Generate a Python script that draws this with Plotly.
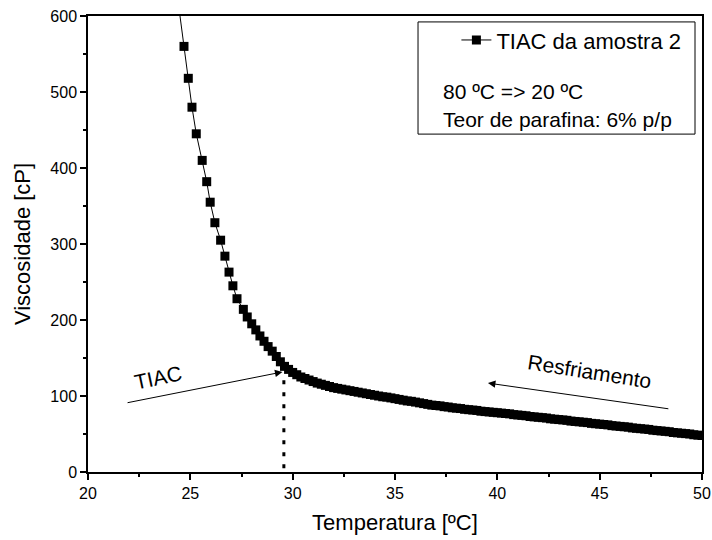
import plotly.graph_objects as go

# Data
temperature = [24.30, 24.69, 24.90, 25.08, 25.29, 25.58, 25.80, 25.97, 26.20, 26.48,
               26.69, 26.89, 27.08, 27.28, 27.59, 27.78,
               28.0, 28.2, 28.4, 28.6, 28.8, 29.0, 29.2, 29.4, 29.6, 29.8,
               30.0, 30.2, 30.4, 30.6, 30.8, 31.0, 31.2, 31.4, 31.6, 31.8,
               32.0, 32.2, 32.4, 32.6, 32.8, 33.0, 33.2, 33.4, 33.6, 33.8,
               34.0, 34.2, 34.4, 34.6, 34.8, 35.0, 35.2, 35.4, 35.6, 35.8,
               36.0, 36.2, 36.4, 36.6, 36.8, 37.0, 37.2, 37.4, 37.6, 37.8,
               38.0, 38.2, 38.4, 38.6, 38.8, 39.0, 39.2, 39.4, 39.6, 39.8,
               40.0, 40.2, 40.4, 40.6, 40.8, 41.0, 41.2, 41.4, 41.6, 41.8,
               42.0, 42.2, 42.4, 42.6, 42.8, 43.0, 43.2, 43.4, 43.6, 43.8,
               44.0, 44.2, 44.4, 44.6, 44.8, 45.0, 45.2, 45.4, 45.6, 45.8,
               46.0, 46.2, 46.4, 46.6, 46.8, 47.0, 47.2, 47.4, 47.6, 47.8,
               48.0, 48.2, 48.4, 48.6, 48.8, 49.0, 49.2, 49.4, 49.6, 49.8,
               50.0]
viscosity = [640, 560, 518, 480, 445, 410, 382, 355, 328, 305,
             284, 263, 245, 228, 214, 204,
             195, 187, 179, 172, 165, 159, 152, 145, 139, 135,
             131, 128, 125, 123, 121, 119, 117, 115.5, 114, 112.5,
             111, 110, 109, 108, 107, 106, 105, 104, 103, 102,
             101, 100, 99, 98.5, 97.5, 96.5, 95.5, 94.5, 93.5, 93,
             92, 91, 90, 89, 88, 87.5, 87, 86, 85.5, 84.5,
             84, 83.5, 82.5, 82, 81.5, 81, 80, 79.5, 79, 78.5,
             78, 77.5, 77, 76.5, 75.5, 75, 74.5, 74, 73, 72.5,
             72, 71.5, 71, 70, 69.5, 69, 68.5, 68, 67, 66.5,
             66, 65.5, 65, 64, 63.5, 63, 62.5, 62, 61, 60.5,
             60, 59.5, 59, 58, 57.5, 57, 56.5, 56, 55, 54.5,
             54, 53.5, 53, 52, 51.5, 51, 50.5, 50, 49, 48.5,
             48]

tiac_temp = [29.57, 29.57]
tiac_visc = [5, 128]

series_name = "TIAC da amostra 2"
box_lines = ["80 ºC => 20 ºC", "Teor de parafina: 6% p/p"]
x_title = "Temperatura [ºC]"
y_title = "Viscosidade [cP]"

FONT = "Liberation Sans, Arial, sans-serif"

fig = go.Figure()
fig.add_trace(go.Scatter(
    x=temperature, y=viscosity, mode="lines+markers", name=series_name,
    line=dict(color="black", width=1),
    marker=dict(symbol="square", size=9, color="black"),
))
fig.add_trace(go.Scatter(
    x=tiac_temp, y=tiac_visc, mode="lines", showlegend=False,
    line=dict(color="black", width=3, dash="4px,8px"),
))

# Legend frame
fig.add_shape(type="rect", xref="paper", yref="paper",
              x0=0.5375, x1=0.9886, y0=0.741, y1=0.987,
              line=dict(color="black", width=1), fillcolor="rgba(0,0,0,0)")
fig.add_annotation(text=box_lines[0], xref="paper", yref="paper", x=0.5755, y=0.835,
                   xanchor="left", yanchor="middle", showarrow=False,
                   font=dict(size=21, color="black", family=FONT))
fig.add_annotation(text=box_lines[1], xref="paper", yref="paper", x=0.5755, y=0.774,
                   xanchor="left", yanchor="middle", showarrow=False,
                   font=dict(size=21, color="black", family=FONT))

# Arrows and labels
fig.add_annotation(x=29.5, y=131.6, ax=21.86, ay=90.8, xref="x", yref="y",
                   axref="x", ayref="y", text="", showarrow=True,
                   arrowhead=2, arrowsize=1.5, arrowwidth=1, arrowcolor="black")
fig.add_annotation(x=39.54, y=117, ax=48.43, ay=82.9, xref="x", yref="y",
                   axref="x", ayref="y", text="", showarrow=True,
                   arrowhead=2, arrowsize=1.5, arrowwidth=1, arrowcolor="black")
fig.add_annotation(x=23.42, y=125, text="TIAC", showarrow=False, textangle=-12,
                   font=dict(size=21, color="black", family=FONT))
fig.add_annotation(x=44.52, y=131.6, text="Resfriamento", showarrow=False, textangle=9,
                   font=dict(size=21, color="black", family=FONT))

axis_common = dict(showline=True, linewidth=1.5, linecolor="black", mirror=True,
                   ticks="outside", ticklen=6, tickwidth=1.5, tickcolor="black",
                   showgrid=False, zeroline=False, automargin=False,
                   tickfont=dict(size=16, color="black", family=FONT))
fig.update_xaxes(range=[20, 50], dtick=5, tick0=20,
                 minor=dict(ticks="outside", ticklen=3, dtick=2.5, tickcolor="black", tickwidth=1.5),
                 title=dict(text=x_title, font=dict(size=22, color="black", family=FONT), standoff=14),
                 **axis_common)
fig.update_yaxes(range=[0, 600], dtick=100, tick0=0,
                 minor=dict(ticks="outside", ticklen=3, dtick=50, tickcolor="black", tickwidth=1.5),
                 title=dict(text=y_title, font=dict(size=22, color="black", family=FONT), standoff=14),
                 **axis_common)

fig.update_layout(
    width=712, height=540,
    margin=dict(l=88, r=10, t=16, b=68),
    paper_bgcolor="white", plot_bgcolor="white",
    font=dict(family=FONT, color="black"),
    showlegend=True,
    legend=dict(x=0.6, y=0.947, xanchor="left", yanchor="middle",
                bgcolor="rgba(0,0,0,0)", borderwidth=0,
                font=dict(size=22, color="black", family=FONT)),
)

fig.write_html("out.html")
